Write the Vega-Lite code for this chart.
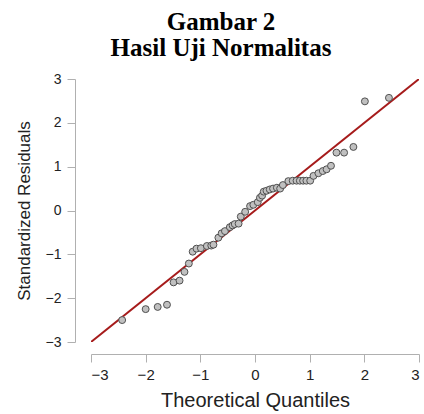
{
  "$schema": "https://vega.github.io/schema/vega-lite/v6.json",
  "width": 328,
  "height": 263,
  "autosize": {"type": "none"},
  "padding": {"left": 91, "top": 79, "right": 5, "bottom": 72},
  "background": "white",
  "title": {
    "text": ["Gambar 2", "Hasil Uji Normalitas"],
    "font": "Liberation Serif",
    "fontWeight": "bold",
    "fontSize": 25,
    "lineHeight": 26,
    "color": "black",
    "anchor": "middle",
    "frame": "group",
    "dx": -34,
    "offset": 11
  },
  "config": {
    "view": {"stroke": null},
    "axis": {
      "grid": false,
      "domainColor": "#b0b0b0",
      "tickColor": "#b0b0b0",
      "tickSize": 8,
      "labelFont": "Liberation Sans",
      "titleFont": "Liberation Sans",
      "labelColor": "#222",
      "titleColor": "#222",
      "titleFontWeight": "normal"
    }
  },
  "layer": [
    {
      "data": {"values": [{"t": -3, "r": -3}, {"t": 3, "r": 3}]},
      "mark": {"type": "line", "color": "#a61b1b", "strokeWidth": 2, "clip": true},
      "encoding": {
        "x": {"field": "t", "type": "quantitative", "scale": {"domain": [-3, 3], "nice": false, "zero": false},
          "axis": {"title": "Theoretical Quantiles", "values": [-3, -2, -1, 0, 1, 2, 3], "format": "d", "offset": 12, "labelFontSize": 15, "titleFontSize": 20, "labelPadding": 5, "titlePadding": 8}},
        "y": {"field": "r", "type": "quantitative", "scale": {"domain": [-3, 3], "nice": false, "zero": false},
          "axis": {"title": "Standardized Residuals", "values": [-3, -2, -1, 0, 1, 2, 3], "format": "d", "offset": 16, "labelFontSize": 14, "titleFontSize": 17, "labelPadding": 6, "titlePadding": 12}}
      }
    },
    {
      "data": {"values": [
        {"t": -2.43, "r": -2.50},
        {"t": -2.00, "r": -2.25},
        {"t": -1.78, "r": -2.20},
        {"t": -1.61, "r": -2.15},
        {"t": -1.49, "r": -1.64},
        {"t": -1.38, "r": -1.60},
        {"t": -1.29, "r": -1.40},
        {"t": -1.21, "r": -1.21},
        {"t": -1.14, "r": -0.94},
        {"t": -1.07, "r": -0.87},
        {"t": -0.99, "r": -0.86},
        {"t": -0.88, "r": -0.81},
        {"t": -0.80, "r": -0.80},
        {"t": -0.76, "r": -0.78},
        {"t": -0.67, "r": -0.62},
        {"t": -0.61, "r": -0.52},
        {"t": -0.55, "r": -0.47},
        {"t": -0.46, "r": -0.38},
        {"t": -0.41, "r": -0.34},
        {"t": -0.37, "r": -0.31},
        {"t": -0.30, "r": -0.30},
        {"t": -0.26, "r": -0.14},
        {"t": -0.18, "r": -0.03},
        {"t": -0.09, "r": 0.10},
        {"t": -0.03, "r": 0.13},
        {"t": 0.05, "r": 0.19},
        {"t": 0.09, "r": 0.29},
        {"t": 0.13, "r": 0.34},
        {"t": 0.16, "r": 0.43},
        {"t": 0.21, "r": 0.45},
        {"t": 0.27, "r": 0.48},
        {"t": 0.33, "r": 0.50},
        {"t": 0.40, "r": 0.52},
        {"t": 0.46, "r": 0.50},
        {"t": 0.51, "r": 0.58},
        {"t": 0.61, "r": 0.67},
        {"t": 0.69, "r": 0.68},
        {"t": 0.76, "r": 0.68},
        {"t": 0.82, "r": 0.68},
        {"t": 0.88, "r": 0.68},
        {"t": 0.94, "r": 0.68},
        {"t": 1.01, "r": 0.68},
        {"t": 1.07, "r": 0.79},
        {"t": 1.16, "r": 0.85},
        {"t": 1.24, "r": 0.90},
        {"t": 1.31, "r": 0.94},
        {"t": 1.39, "r": 1.02},
        {"t": 1.49, "r": 1.32},
        {"t": 1.63, "r": 1.32},
        {"t": 1.80, "r": 1.45},
        {"t": 2.01, "r": 2.49},
        {"t": 2.45, "r": 2.57}
      ]},
      "mark": {"type": "point", "shape": "circle", "filled": true, "size": 48, "fill": "#c0c0c0", "stroke": "#505050", "strokeWidth": 1, "opacity": 1},
      "encoding": {
        "x": {"field": "t", "type": "quantitative"},
        "y": {"field": "r", "type": "quantitative"}
      }
    }
  ]
}
